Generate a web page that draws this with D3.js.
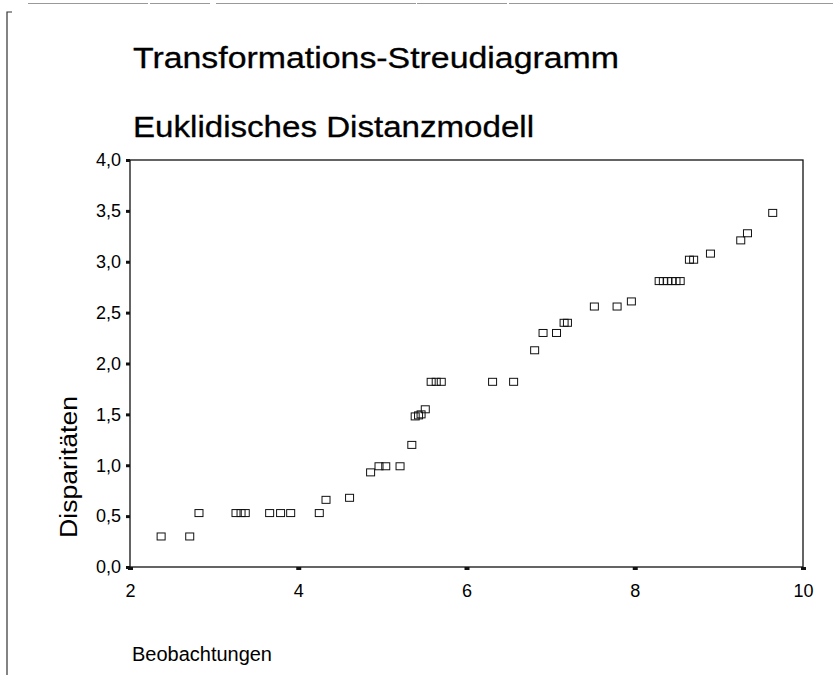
<!DOCTYPE html>
<html>
<head>
<meta charset="utf-8">
<script src="https://cdn.jsdelivr.net/npm/d3@7"></script>
<style>
  body { margin: 0; background: #fff; }
  svg text { font-family: "Liberation Sans", Arial, sans-serif; fill: #000; }
</style>
</head>
<body>
<svg id="chart"></svg>
<script>
// titles / labels
const title_lines = ['Transformations-Streudiagramm', 'Euklidisches Distanzmodell'];
const x_label = 'Beobachtungen';
const y_label = 'Disparitäten';

// Beobachtungen (x) and Disparitäten (y)
const beobachtungen = [
  2.37, 2.71, 2.82, 3.26, 3.32, 3.37, 3.66, 3.79, 3.91, 4.25,
  4.33, 4.61, 4.86, 4.96, 5.04, 5.21, 5.35, 5.39, 5.43, 5.46,
  5.51, 5.58, 5.64, 5.70, 6.31, 6.56, 6.81, 6.91, 7.07, 7.16,
  7.20, 7.52, 7.79, 7.96, 8.29, 8.34, 8.39, 8.44, 8.49, 8.54,
  8.65, 8.70, 8.90, 9.26, 9.34, 9.64
];
const disparitaeten = [
  0.30, 0.30, 0.53, 0.53, 0.53, 0.53, 0.53, 0.53, 0.53, 0.53,
  0.66, 0.68, 0.93, 0.99, 0.99, 0.99, 1.20, 1.48, 1.49, 1.50,
  1.55, 1.82, 1.82, 1.82, 1.82, 1.82, 2.13, 2.30, 2.30, 2.40,
  2.40, 2.56, 2.56, 2.61, 2.81, 2.81, 2.81, 2.81, 2.81, 2.81,
  3.02, 3.02, 3.08, 3.21, 3.28, 3.48
];

const x_ticks = [2, 4, 6, 8, 10];
const y_ticks = [0, 0.5, 1, 1.5, 2, 2.5, 3, 3.5, 4];

const width = 833;
const height = 675;
const plot = { left: 130, right: 803, top: 160, bottom: 567 };

const de = d3.formatLocale({ decimal: ',', thousands: '.', grouping: [3], currency: ['', ' €'] });
const fmt1 = de.format('.1f');

const svg = d3.select('#chart')
  .attr('width', width)
  .attr('height', height);

const x = d3.scaleLinear().domain([2, 10]).range([plot.left, plot.right]);
const y = d3.scaleLinear().domain([0, 4]).range([plot.bottom, plot.top]);

// outer page frame (scanned look)
svg.append('line')
  .attr('x1', 28).attr('x2', width).attr('y1', 3.5).attr('y2', 3.5)
  .attr('stroke', '#999').attr('stroke-width', 1)
  .attr('stroke-dasharray', '120 2 60 6 200 1 90 2 400');
svg.append('path')
  .attr('d', 'M12,12 H7 V675')
  .attr('fill', 'none').attr('stroke', '#333').attr('stroke-width', 1.2);

// titles - the original font runs wider than Arial, so stretch to measured widths
const title_widths = [486, 401];
svg.selectAll('.title')
    .data(title_lines)
  .enter().append('text')
    .attr('class', 'title')
    .attr('x', 133)
    .attr('y', (d, i) => i === 0 ? 68 : 137)
    .attr('font-size', 29)
    .attr('stroke', '#000')
    .attr('stroke-width', 0.3)
    .attr('textLength', (d, i) => title_widths[i])
    .attr('lengthAdjust', 'spacingAndGlyphs')
    .text(d => d);

// plot frame
svg.append('rect')
  .attr('x', plot.left).attr('y', plot.top)
  .attr('width', plot.right - plot.left).attr('height', plot.bottom - plot.top)
  .attr('fill', 'none').attr('stroke', '#111').attr('stroke-width', 1.3);

// y axis
const y_axis = svg.append('g')
  .attr('transform', `translate(${plot.left},0)`)
  .call(d3.axisLeft(y).tickValues(y_ticks).tickSize(4).tickPadding(5).tickFormat(fmt1));
y_axis.select('.domain').remove();
y_axis.selectAll('.tick line').attr('stroke', '#111').attr('stroke-width', 3);
y_axis.selectAll('.tick text')
  .attr('font-size', 18)
  .attr('font-family', '"Liberation Sans", Arial, sans-serif')
  .attr('fill', '#000');

// x axis
const x_axis = svg.append('g')
  .attr('transform', `translate(0,${plot.bottom})`)
  .call(d3.axisBottom(x).tickValues(x_ticks).tickSize(3).tickPadding(14));
x_axis.select('.domain').remove();
x_axis.selectAll('.tick line').attr('stroke', '#111').attr('stroke-width', 5);
x_axis.selectAll('.tick text')
  .attr('font-size', 18)
  .attr('font-family', '"Liberation Sans", Arial, sans-serif')
  .attr('fill', '#000');

// axis titles
svg.append('text')
  .attr('x', 132).attr('y', 661)
  .attr('font-size', 20)
  .attr('textLength', 140)
  .attr('lengthAdjust', 'spacingAndGlyphs')
  .text(x_label);

svg.append('text')
  .attr('transform', 'translate(77,538) rotate(-90)')
  .attr('font-size', 23)
  .attr('textLength', 142)
  .attr('lengthAdjust', 'spacingAndGlyphs')
  .text(y_label);

// points: open squares
const points = beobachtungen.map((b, i) => ({ b: b, d: disparitaeten[i] }));
const sq_w = 8;
const sq_h = 7;
svg.append('g').selectAll('rect')
    .data(points)
  .enter().append('rect')
    .attr('x', d => x(d.b) - sq_w / 2)
    .attr('y', d => y(d.d) - sq_h / 2)
    .attr('width', sq_w)
    .attr('height', sq_h)
    .attr('fill', 'none')
    .attr('stroke', '#111')
    .attr('stroke-width', 1);
</script>
</body>
</html>
